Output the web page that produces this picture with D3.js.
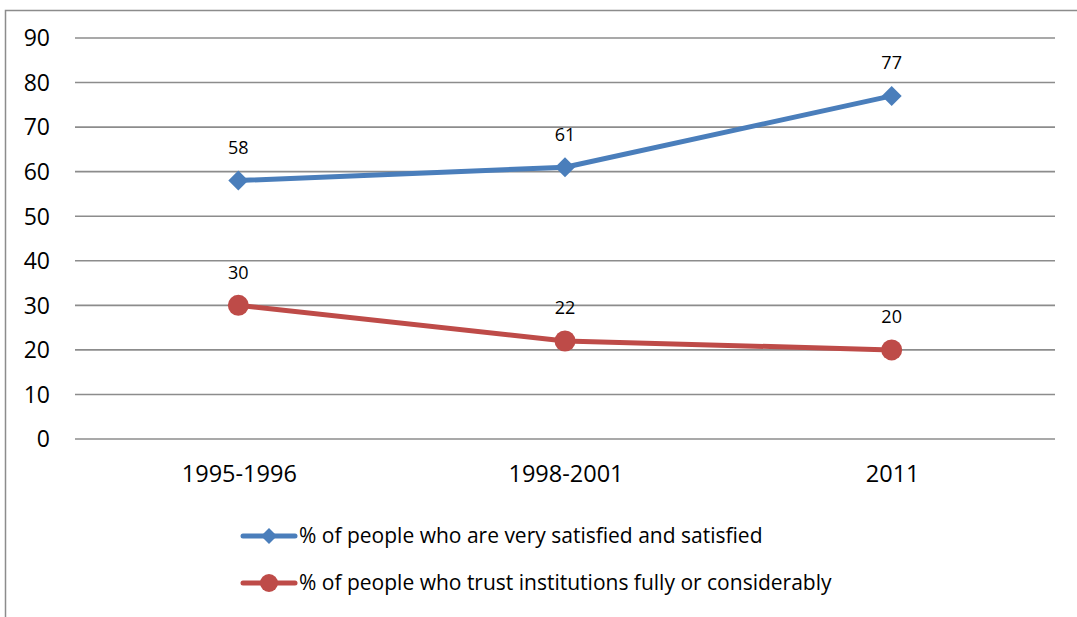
<!DOCTYPE html>
<html><head><meta charset="utf-8">
<script src="https://cdn.jsdelivr.net/npm/d3@7"></script>
<style>body{margin:0;background:#fff;}svg{display:block;font-family:"Open Sans",sans-serif;}</style>
</head><body>
<svg id="c" width="1077" height="617"></svg>
<script>
const categories = ["1995-1996", "1998-2001", "2011"];
const satisfied = [58, 61, 77];
const trust = [30, 22, 20];
const yTicks = [0, 10, 20, 30, 40, 50, 60, 70, 80, 90];
const seriesNames = ["% of people who are very satisfied and satisfied", "% of people who trust institutions fully or considerably"];

const svg = d3.select("#c");
svg.append("path").attr("d", "M5.5,617 V10.5 H1077").attr("fill","none").attr("stroke","#8c8c8c").attr("stroke-width",1.5);

const x = d3.scaleBand().domain(categories).range([75, 1055]);
const y = d3.scaleLinear().domain([0, 90]).range([439, 38]);

const grid = svg.append("g");
yTicks.forEach(t => {
  grid.append("line").attr("x1", 75).attr("x2", 1055).attr("y1", y(t)).attr("y2", y(t))
    .attr("stroke", "#8c8c8c").attr("stroke-width", 1.6);
  grid.append("text").attr("x", 50).attr("y", y(t)).attr("dy", "0.36em").attr("text-anchor","end")
    .attr("font-size", 23).attr("fill","#000").text(t);
});
categories.forEach(c => {
  svg.append("text").attr("x", x(c) + x.bandwidth()/2 + 1).attr("y", 482).attr("text-anchor","middle")
    .attr("font-size", 23.5).attr("fill","#000").text(c);
});

const cx = c => x(c) + x.bandwidth()/2;
const line = d3.line().x((d,i) => cx(categories[i])).y(d => y(d));
const blue = "#4a7ebb", red = "#be4b48";

function drawSeries(vals, color, shape) {
  svg.append("path").datum(vals).attr("d", line).attr("fill","none").attr("stroke", color)
    .attr("stroke-width", 5).attr("stroke-linecap","round").attr("stroke-linejoin","round");
  vals.forEach((v,i) => {
    const px = cx(categories[i]), py = y(v);
    if (shape === "diamond") {
      svg.append("path").attr("d", `M${px},${py-10} L${px+10},${py} L${px},${py+10} L${px-10},${py} Z`).attr("fill", color);
    } else {
      svg.append("circle").attr("cx", px).attr("cy", py).attr("r", 10.5).attr("fill", color);
    }
    svg.append("text").attr("x", px).attr("y", py - 33).attr("dy","0.36em").attr("text-anchor","middle")
      .attr("font-size", 18).attr("fill","#000").text(v);
  });
}
drawSeries(satisfied, blue, "diamond");
drawSeries(trust, red, "circle");

const leg = [[seriesNames[0], blue, "diamond", 536], [seriesNames[1], red, "circle", 583]];
leg.forEach(([name, color, shape, ly]) => {
  svg.append("line").attr("x1", 243).attr("x2", 295).attr("y1", ly).attr("y2", ly)
    .attr("stroke", color).attr("stroke-width", 5).attr("stroke-linecap","round");
  if (shape === "diamond") {
    svg.append("path").attr("d", `M269,${ly-8} L277,${ly} L269,${ly+8} L261,${ly} Z`).attr("fill", color);
  } else {
    svg.append("circle").attr("cx", 269).attr("cy", ly).attr("r", 9).attr("fill", color);
  }
  svg.append("text").attr("x", 299).attr("y", ly).attr("dy","0.35em").attr("font-size", 21).attr("fill","#000").text(name);
});
</script>
</body></html>
